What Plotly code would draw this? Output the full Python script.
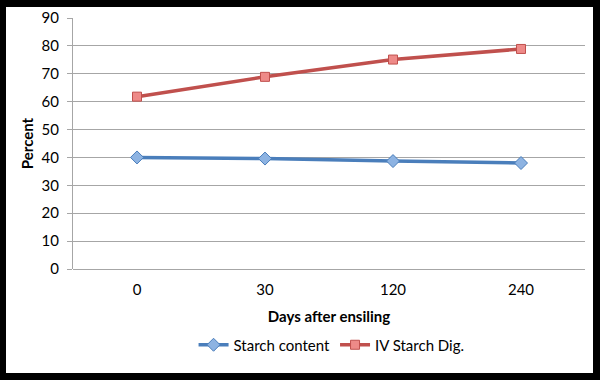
import plotly.graph_objects as go

days = ["0", "30", "120", "240"]
starch_content = [40.0, 39.6, 38.7, 38.0]
iv_starch_dig = [61.8, 68.9, 75.1, 78.9]
y_ticks = [0, 10, 20, 30, 40, 50, 60, 70, 80, 90]

FONT = "Lato, 'Open Sans', sans-serif"
FS = 15

fig = go.Figure()
fig.add_trace(go.Scatter(
    x=days, y=starch_content, name="Starch content", mode="lines+markers",
    line=dict(color="#4A7EBB", width=3.5),
    marker=dict(symbol="diamond", size=10, color="#8DB3E2",
                line=dict(color="#4A7EBB", width=1)),
))
fig.add_trace(go.Scatter(
    x=days, y=iv_starch_dig, name="IV Starch Dig.", mode="lines+markers",
    line=dict(color="#C0504D", width=3.5),
    marker=dict(symbol="square", size=9, color="#EE8A88",
                line=dict(color="#C0504D", width=1)),
))

# white card sits inside a black frame: card spans page px x 6..593, y 7..373
OX, OY = 6, 7
FW, FH = 593 - OX, 373 - OY
# plot area in page px: x 73..585, y 18..269
L, R, T, B = 73 - OX, 585 - OX, 18 - OY, 269 - OY
W, H = R - L, B - T
def py(y): return (B - (y - OY)) / H

fig.update_layout(
    width=FW, height=FH,
    margin=dict(l=L, r=FW - R, t=T, b=FH - B, autoexpand=False),
    paper_bgcolor="white", plot_bgcolor="white",
    font=dict(family=FONT, size=FS, color="black"),
    showlegend=True,
    legend=dict(orientation="h", x=0.505, xanchor="center", y=py(345), yanchor="middle",
                font=dict(family=FONT, size=FS), tracegroupgap=0),
    xaxis=dict(
        type="category", range=[-0.5, 3.5], showgrid=False, showline=False,
        ticks="", ticklabelstandoff=10, automargin=False,
        title=dict(text="<b>Days after ensiling</b>", font=dict(family=FONT, size=FS), standoff=14),
    ),
    yaxis=dict(
        range=[0, 90], tickvals=y_ticks, ticktext=[str(v) for v in y_ticks],
        showgrid=True, gridcolor="#A6A6A6", gridwidth=1, automargin=False,
        showline=True, linecolor="#A6A6A6", linewidth=1,
        ticks="outside", ticklen=5, tickcolor="#A6A6A6", ticklabelstandoff=5,
        zeroline=True, zerolinecolor="#A6A6A6", zerolinewidth=1,
        title=dict(text="<b>Percent</b>", font=dict(family=FONT, size=FS), standoff=4),
    ),
)

css = ("document.documentElement.style.background='black';"
       "document.body.style.background='black';"
       "document.body.style.margin='0';document.body.style.padding='0';"
       "document.body.style.overflow='hidden';"
       "var d=document.getElementById('{plot_id}');"
       "d.style.position='absolute';d.style.left='%dpx';d.style.top='%dpx';" % (OX, OY))

fig.write_html("out.html", config={"displayModeBar": False}, post_script=css)
